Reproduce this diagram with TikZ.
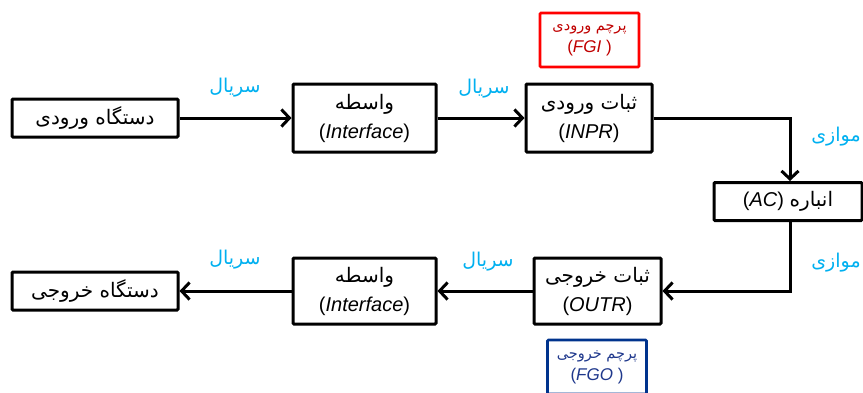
\documentclass[tikz,border=0pt]{standalone}
\usepackage{fontspec}
\setmainfont{Liberation Sans}
\newfontfamily\fa[Script=Arabic]{DejaVu Sans}
\TeXXeTstate=1
\usetikzlibrary{arrows.meta}
\definecolor{lblcyan}{RGB}{0,176,240}
\definecolor{flagred}{RGB}{255,0,0}
\definecolor{flagredtxt}{RGB}{192,0,0}
\definecolor{flagblue}{RGB}{0,51,141}
\definecolor{flagbluetxt}{RGB}{31,56,140}
\newcommand\fatxt[1]{{\fa\beginR #1\endR}}
\newcommand\flagfa[1]{{\fontsize{14.5}{22}\selectfont\fa\beginR #1\endR}}
\tikzset{
  box/.style={draw=black, line width=3pt, rounded corners=1pt, inner sep=0pt,
    align=center, font=\fontsize{20}{29}\selectfont},
  flagbox/.style={line width=2.6pt, rounded corners=1pt, inner sep=0pt,
    align=center, font=\fontsize{17}{22}\selectfont, minimum width=99pt, minimum height=54pt},
  conn/.style={line width=3pt, -{Straight Barb[length=8pt,width=17pt,line width=3pt]}},
  lbl/.style={text=lblcyan, font=\fontsize{19}{22}\selectfont, inner sep=0pt}
}
\begin{document}
\begin{tikzpicture}[x=1pt,y=-1pt]
\useasboundingbox (0,0) rectangle (863,392);
\clip (0,0) rectangle (863,392);
% top row
\node[box, minimum width=166pt, minimum height=38pt] (in) at (95,118) {\fatxt{دستگاه ورودی}};
\node[box, minimum width=143pt, minimum height=68pt] (ifa) at (364.5,118) {\fatxt{واسطه}\\(\textit{Interface})};
\node[box, minimum width=126pt, minimum height=68pt] (inpr) at (589,118) {\fatxt{ثبات ورودی}\\(\textit{INPR})};
\node[flagbox, draw=flagred, text=flagredtxt] (fgi) at (589.5,40) {\flagfa{پرچم ورودی}\\(\textit{FGI} )};
% accumulator
\node[box, minimum width=148pt, minimum height=38pt] (ac) at (788,201.5) {\beginR{\fa انباره} \beginL(\textit{AC})\endL\endR};
% bottom row
\node[box, minimum width=127pt, minimum height=66pt] (outr) at (597.5,291) {\fatxt{ثبات خروجی}\\(\textit{OUTR})};
\node[box, minimum width=143pt, minimum height=66pt] (ifb) at (364.5,291) {\fatxt{واسطه}\\(\textit{Interface})};
\node[box, minimum width=166pt, minimum height=38pt] (out) at (95,291) {\fatxt{دستگاه خروجی}};
\node[flagbox, draw=flagblue, text=flagbluetxt] (fgo) at (597,367) {\flagfa{پرچم خروجی}\\(\textit{FGO} )};
% connectors
\coordinate (acin) at (790,201.5);
\draw[conn] (in) -- (ifa);
\draw[conn] (ifa) -- (inpr);
\draw[conn] (inpr.east) -| (acin |- ac.north);
\draw[conn] (acin |- ac.south) |- (outr.east);
\draw[conn] (outr) -- (ifb);
\draw[conn] (ifb) -- (out);
% labels
\node[lbl] (l1) at (235,88) {\fatxt{سریال}};
\node[lbl] (l2) at (484,89) {\fatxt{سریال}};
\node[lbl] (l3) at (836,137) {\fatxt{موازی}};
\node[lbl] (l4) at (836,263) {\fatxt{موازی}};
\node[lbl] (l5) at (235,260) {\fatxt{سریال}};
\node[lbl] (l6) at (488,262) {\fatxt{سریال}};
\end{tikzpicture}
\end{document}
